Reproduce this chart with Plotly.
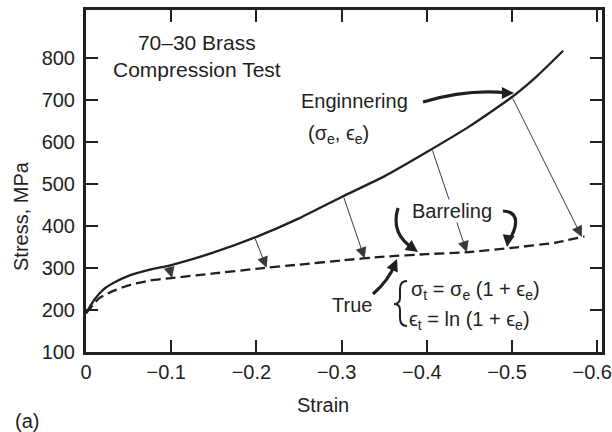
import numpy as np
import plotly.graph_objects as go

# engineering curve (solid)
eng_strain = [0, -0.01, -0.02, -0.032, -0.052, -0.075, -0.1, -0.15, -0.2, -0.25,
              -0.3, -0.35, -0.4, -0.45, -0.5, -0.53, -0.56]
eng_stress = [192, 225, 248, 264, 283, 296, 307, 337, 374, 418,
              469, 518, 576, 637, 707, 758, 817]

# true curve (dashed)
true_strain = [0, -0.016, -0.035, -0.052, -0.075, -0.1, -0.15, -0.2, -0.25,
               -0.3, -0.35, -0.4, -0.45, -0.5, -0.55, -0.585]
true_stress = [192, 229, 248, 260, 270, 276, 287, 298, 308,
               318, 327, 333, 338, 348, 360, 375]

# conversion arrows: from engineering point to true point
arrow_from = [-0.097, -0.198, -0.302, -0.406, -0.500]
arrow_to = [-0.101, -0.212, -0.327, -0.447, -0.582]

x_ticks = [0, -0.1, -0.2, -0.3, -0.4, -0.5, -0.6]
x_labels = ["0", "−0.1", "−0.2", "−0.3", "−0.4", "−0.5", "−0.6"]
y_ticks = [100, 200, 300, 400, 500, 600, 700, 800]

INK = "#231f20"
FONT = "Liberation Sans, Arial, sans-serif"

# plot box in pixels (used for placing the hand-drawn decorations)
L, R, T, B = 86, 602, 10, 352


def paper(x, y):
    return (x - L) / (R - L), (B - y) / (B - T)


def path(cmds):
    out = []
    for c in cmds:
        if isinstance(c, str):
            out.append(c)
        else:
            px, py = paper(*c)
            out.append(f"{px:.4f},{py:.4f}")
    return " ".join(out)


def on_curve(s, xs, ys):
    return float(np.interp(-s, [-v for v in xs], ys))


fig = go.Figure()
fig.add_trace(go.Scatter(x=eng_strain, y=eng_stress, mode="lines",
                         line=dict(color=INK, width=2.3, shape="spline", smoothing=0.5),
                         hoverinfo="skip"))
fig.add_trace(go.Scatter(x=true_strain, y=true_stress, mode="lines",
                         line=dict(color=INK, width=2.3, dash="10px,5px", shape="spline", smoothing=0.5),
                         hoverinfo="skip"))

annotations = []
for s0, s1 in zip(arrow_from, arrow_to):
    annotations.append(dict(
        x=s1, y=on_curve(s1, true_strain, true_stress), xref="x", yref="y",
        ax=s0, ay=on_curve(s0, eng_strain, eng_stress), axref="x", ayref="y",
        text="", showarrow=True, arrowhead=2, arrowsize=2.2, arrowwidth=1,
        arrowcolor="#3a3a3a"))

# thick hand-drawn pointer arrows
curves = [
    ["M", (423, 102), "C", (450, 94), (480, 90), (508, 93)],          # Enginnering
    ["M", (398, 208), "Q", (390, 234), (414, 249)],                   # Barreling left
    ["M", (503, 211), "C", (522, 212), (516, 230), (508, 242)],       # Barreling right
    ["M", (373, 294), "Q", (389, 280), (395, 264)],                   # True
]
heads = [((514, 93), (506, 93)), ((418, 252), (411, 247)),
         ((507, 247), (508, 240)), ((397, 259), (394, 266))]
shapes = [dict(type="path", xref="paper", yref="paper", path=path(c),
               line=dict(color=INK, width=3.2)) for c in curves]
for tip, tail in heads:
    tx, ty = paper(*tip)
    annotations.append(dict(x=tx, y=ty, xref="paper", yref="paper",
                            ax=tail[0] - tip[0], ay=tail[1] - tip[1],
                            text="", showarrow=True, arrowhead=2, arrowsize=1.1,
                            arrowwidth=2.2, arrowcolor=INK))

# brace in front of the formulas
shapes.append(dict(type="path", xref="paper", yref="paper",
                   path=path(["M", (407, 281), "Q", (400, 281), (400, 289), "L", (400, 298),
                              "Q", (400, 304), (394, 304), "Q", (400, 304), (400, 310),
                              "L", (400, 318), "Q", (400, 326), (407, 326)]),
                   line=dict(color=INK, width=2)))


def label(text, x, y, size=20, anchor="center", **kw):
    px, py = paper(x, y)
    d = dict(x=px, y=py, xref="paper", yref="paper", text=text, showarrow=False,
             xanchor=anchor, yanchor="middle", font=dict(size=size, color=INK, family=FONT))
    d.update(kw)
    annotations.append(d)


label("70–30 Brass<br>Compression Test", 197, 56, size=21)
label("Enginnering", 354, 101, size=20)
label("(σ<sub>e</sub>, ϵ<sub>e</sub>)", 338, 134, size=20)
label("Barreling", 452, 211, size=20, bgcolor="white", borderpad=0)
label("True", 352, 305, size=20)
label("σ<sub>t</sub> = σ<sub>e</sub> (1 + ϵ<sub>e</sub>)", 409, 290, size=20, anchor="left")
label("ϵ<sub>t</sub> = ln (1 + ϵ<sub>e</sub>)", 407, 320, size=20, anchor="left")
label("Stress, MPa", 21, 216, size=20, textangle=-90)
label("Strain", 323, 405, size=20)
label("(a)", 27, 421, size=20)

axis_common = dict(showgrid=False, zeroline=False, showline=True, linewidth=3,
                   linecolor=INK, mirror="ticks", ticks="inside", ticklen=12,
                   tickwidth=1.5, tickcolor=INK, automargin=False,
                   ticklabeloverflow="allow",
                   tickfont=dict(size=20, color=INK, family=FONT))

fig.update_layout(
    width=612, height=432,
    margin=dict(l=L, r=612 - R, t=T, b=432 - B),
    paper_bgcolor="white", plot_bgcolor="white",
    showlegend=False,
    xaxis=dict(range=[0, -0.6056], tickvals=x_ticks,
               # en space after the negative labels nudges them left, as in the print
               ticktext=[t if t == "0" else t + "\u2002" for t in x_labels],
               ticklabelstandoff=0, **axis_common),
    yaxis=dict(range=[100, 914], tickvals=y_ticks, ticklabelstandoff=4, **axis_common),
    shapes=shapes,
    annotations=annotations,
)

fig.write_html("out.html", config={"displayModeBar": False},
               post_script="document.body.style.margin='0';")
